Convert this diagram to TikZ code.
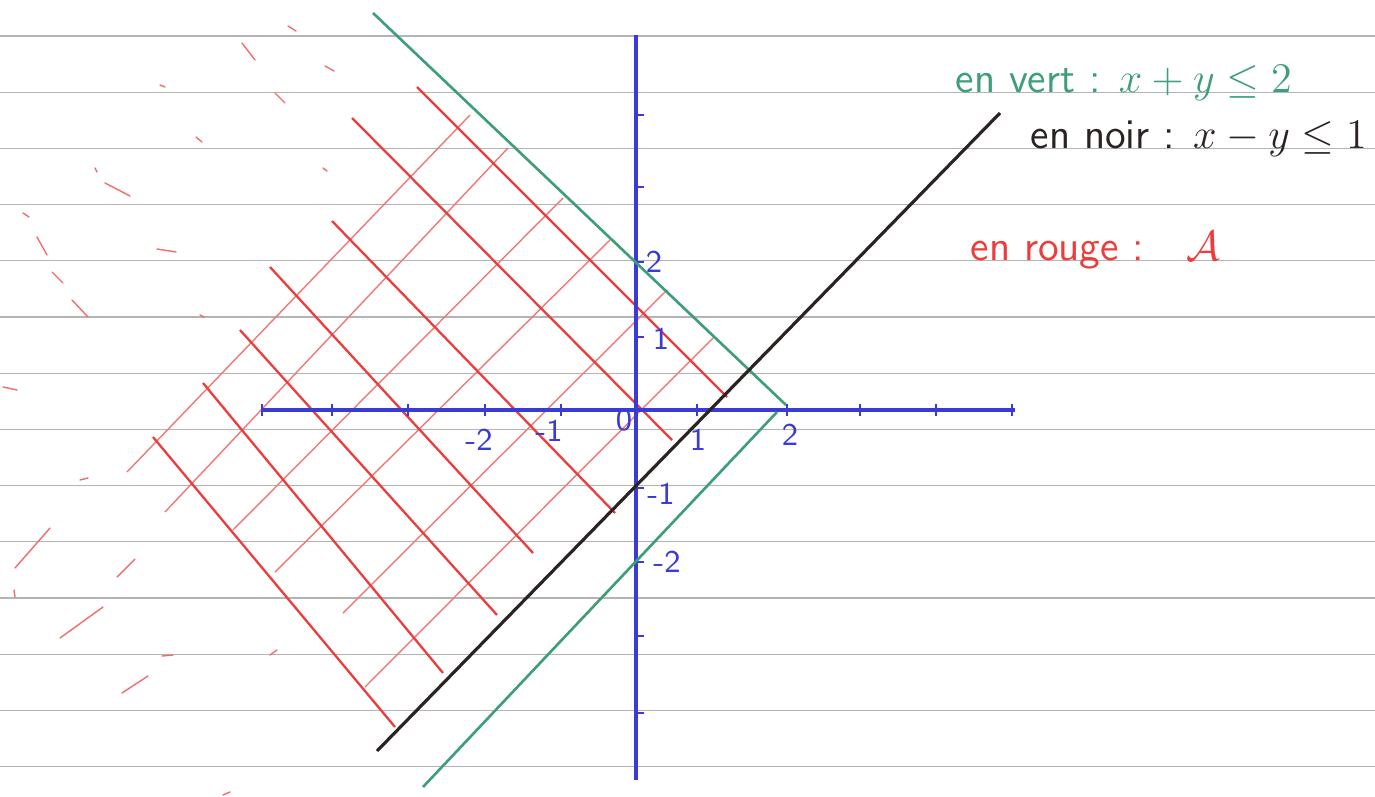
\documentclass[tikz,border=0pt]{standalone}
\usepackage{amssymb}
\usepackage{amsmath}

\definecolor{vert}{HTML}{3E9E78}
\definecolor{noir}{HTML}{2B2222}
\definecolor{rouge}{HTML}{EC3C3C}
\definecolor{bleu}{HTML}{3A3AD6}
\definecolor{ligne}{HTML}{B4B4B4}

\tikzset{
  rule/.style={ligne, line width=0.3pt},
  axe/.style={bleu, line width=1pt},
  graduation/.style={bleu, line width=0.8pt},
  rougegras/.style={rouge, line width=0.65pt},
  rougefin/.style={rouge!70, line width=0.4pt},
  trace/.style={rouge!75, line width=0.4pt, line cap=round},
  etiq/.style={bleu, font=\small\sffamily, inner sep=1pt},
  legende/.style={anchor=base west, font=\fontsize{12}{14}\selectfont\sffamily, inner sep=0pt}
}

\begin{document}
\begin{tikzpicture}[x=0.01cm, y=-0.01cm]
\useasboundingbox (0,0) rectangle (1375,797);

% feuille lignee
\foreach \k in {0,...,13}
  \draw[rule] (0,36+56.2*\k) -- (1375,36+56.2*\k);

% traits rouges epars
\foreach \a/\b/\c/\d in {288/26/296/31, 242/43/255/60, 325/66/334/71,
    160/85/165/87, 275/93/285/103, 196/137/202/142, 95/168/97/172,
    105/183/130/196, 23/213/29/217, 323/168/327/171, 37/237/47/255,
    157/249/176/252, 52/272/63/283, 72/300/88/317, 200/315/204/317,
    3/387/17/390, 80/480/88/478, 15/568/50/528, 117/577/135/559,
    14/590/15/597, 60/638/103/607, 162/656/173/655, 270/655/277/650,
    122/693/148/676, 223/795/230/792}
  \draw[trace] (\a,\b) -- (\c,\d);

% hachures de A
\foreach \a/\b/\c/\d in {127/472/470/115, 165/512/508/148, 233/530/563/198,
    275/572/610/240, 343/613/667/290, 365/687/713/338}
  \draw[rougefin] (\a,\b) -- (\c,\d);
\foreach \a/\b/\c/\d in {417/87/727/397, 352/118/672/440, 332/221/615/513,
    270/267/533/553, 240/330/497/615, 203/383/443/673, 153/437/395/727}
  \draw[rougegras] (\a,\b) -- (\c,\d);

% axes
\draw[axe] (262,410) -- (1015,410);
\draw[axe] (636,35) -- (636,780);
\foreach \x in {262,332,408,485,561,697,787,860,936,1012}
  \draw[graduation] (\x,404) -- (\x,416);
\foreach \y in {115,187,262,337,488,562,636,713}
  \draw[graduation] (636,\y) -- (644,\y);

\node[etiq] (y2) at (654,262) {2};
\node[etiq] (y1) at (661,339) {1};
\node[etiq] (ym1) at (661,494) {-1};
\node[etiq] (ym2) at (667,562) {-2};
\node[etiq] (xm2) at (479,440) {-2};
\node[etiq] (xm1) at (549,431) {-1};
\node[etiq] (orig) at (624,420) {0};
\node[etiq] (x1) at (698,440) {1};
\node[etiq] (x2) at (790,435) {2};

% droites
\draw[vert, line width=0.75pt] (373,13) -- (786,405);
\draw[vert, line width=0.75pt] (777,412) -- (423,787);
\draw[noir, line width=0.9pt] (377,751) -- (1000,113);

% legende
\node[legende, text=vert] (legvert) at (955,92) {en vert : $x+y \leq 2$};
\node[legende, text=noir] (legnoir) at (1030,148) {en noir : $x-y \leq 1$};
\node[legende, text=rouge] (legrouge) at (970,260) {en rouge :\quad $\mathcal{A}$};
\end{tikzpicture}
\end{document}
